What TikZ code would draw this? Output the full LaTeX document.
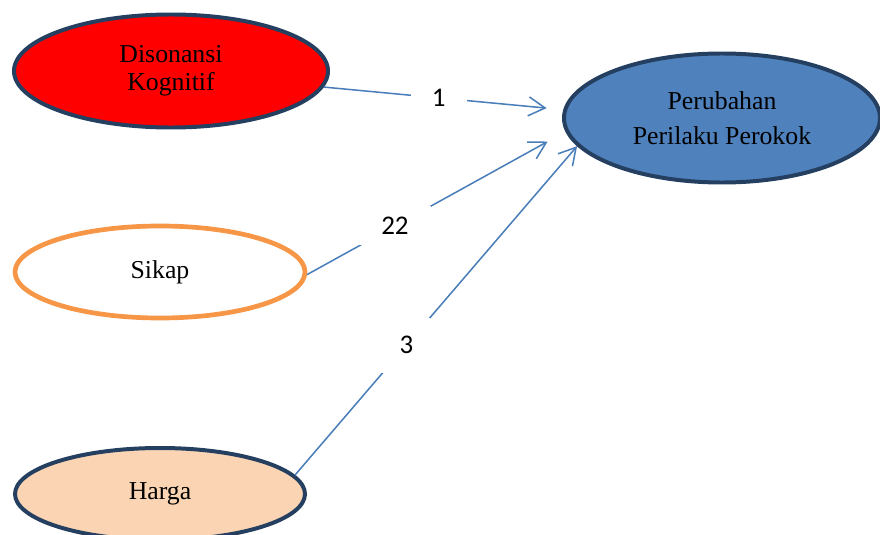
\documentclass[tikz,border=0pt]{standalone}
\usepackage{fontspec}
\setmainfont{Liberation Serif}
\newfontfamily\numfont{Carlito}
\usetikzlibrary{shapes.geometric,arrows.meta}
\definecolor{navy}{HTML}{243F60}
\definecolor{linkblue}{HTML}{4A7EBB}
\definecolor{orangeline}{HTML}{F79646}
\definecolor{peach}{HTML}{FBD4B4}
\definecolor{perblue}{HTML}{4F81BD}

\begin{document}
\begin{tikzpicture}[x=0.03cm, y=-0.03cm,
    oval/.style={ellipse, draw=navy, line width=3.4pt, inner sep=0pt, align=center,
      font=\fontsize{22}{24}\selectfont},
    conn/.style={draw=linkblue, line width=1.3pt},
    lbl/.style={fill=white, inner sep=0pt, font=\numfont\fontsize{23}{27}\selectfont},
    >={Straight Barb[length=0.5cm,width=0.57cm]}]
    \clip (0,0) rectangle (880,534); % page size
    % the four factors
    \node[oval, fill=red, minimum width=9.42cm, minimum height=3.39cm] (dis) at (171,71) {Disonansi\\Kognitif};
    \node[oval, draw=orangeline, line width=4pt, fill=white, minimum width=8.7cm, minimum height=2.76cm] (sik) at (160,272) {Sikap};
    \node[oval, fill=peach, minimum width=8.7cm, minimum height=2.76cm] (har) at (160,494) {Harga};
    \node[oval, fill=perblue, minimum width=9.48cm, minimum height=3.87cm] (per) at (722,118) {Perubahan\\[6pt]Perilaku Perokok};
    % links with their numbers
    \draw[conn, ->, shorten >=0.5cm] (dis.-6) -- node[lbl, pos=.48, minimum width=1.68cm, minimum height=0.9cm] (n1) {1} (per.177.7);
    \draw[conn, ->, shorten >=0.61cm] (sik.-1) -- node[lbl, pos=.34, minimum width=2.16cm, minimum height=1.17cm] (n2) {22} (per.185.6);
    \draw[conn, ->] (har.8) -- node[lbl, pos=.395, minimum width=1.44cm, minimum height=1.65cm] (n3) {3} (per.191.5);
\end{tikzpicture}
\end{document}
